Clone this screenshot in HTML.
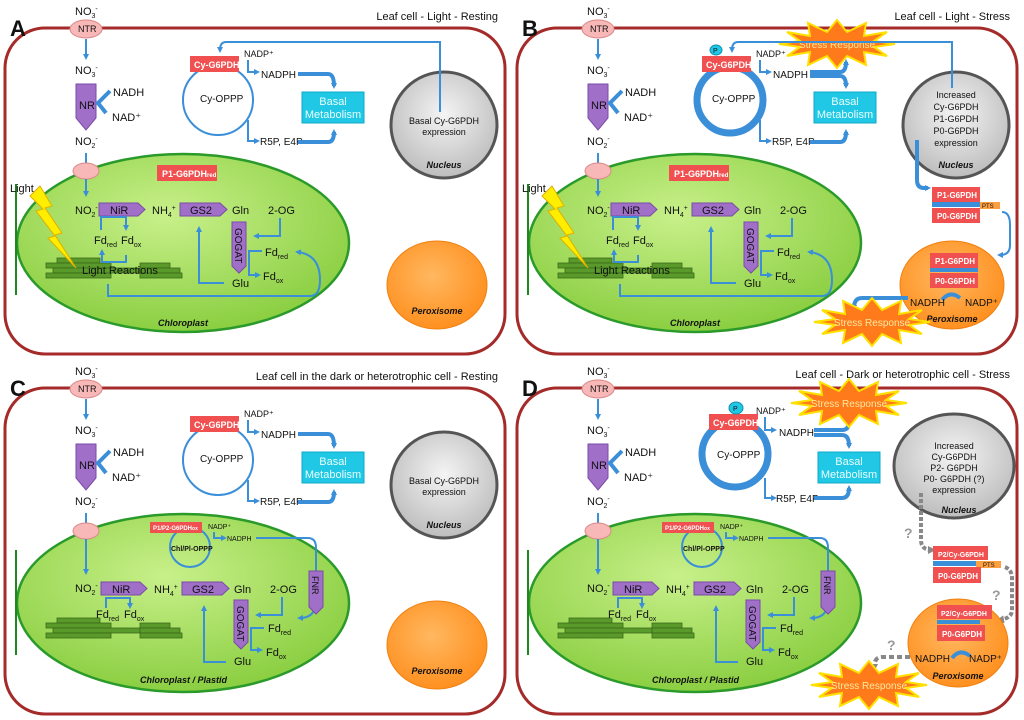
<!DOCTYPE html>
<html><head><meta charset="utf-8"><style>
html,body{margin:0;padding:0;background:#fff}
svg{display:block;font-family:"Liberation Sans",sans-serif;font-size:11px}
text{fill:#111}
.b{font-weight:bold;font-style:italic}
.w{fill:#fff;font-weight:bold}
.wc{fill:#e8ffff}
.big{font-weight:bold}
.ttl{text-anchor:end}
.sr{fill:#ffe8a0;text-anchor:middle}
.q{fill:#999;font-weight:bold}
.bl{stroke:#3a8fd8;stroke-width:2;fill:none}
.bt{stroke:#3a8fd8;stroke-width:4;fill:none}
</style></head><body>
<svg width="1024" height="720" viewBox="0 0 1024 720" xmlns="http://www.w3.org/2000/svg">
<defs>
<marker id="ar" markerWidth="6" markerHeight="6" refX="3" refY="3" orient="auto" markerUnits="userSpaceOnUse"><path d="M0,0L6,3L0,6z" fill="#3a8fd8"/></marker>
<marker id="ag" markerWidth="8" markerHeight="8" refX="4" refY="4" orient="auto" markerUnits="userSpaceOnUse"><path d="M0,0L8,4L0,8z" fill="#888"/></marker>
<radialGradient id="gch" cx="0.45" cy="0.35" r="0.7"><stop offset="0" stop-color="#c8f08a"/><stop offset="1" stop-color="#86cc3c"/></radialGradient>
<radialGradient id="gnu" cx="0.5" cy="0.4" r="0.6"><stop offset="0" stop-color="#f4f4f4"/><stop offset="1" stop-color="#bdbdbd"/></radialGradient>
<radialGradient id="gpe" cx="0.45" cy="0.4" r="0.6"><stop offset="0" stop-color="#ffb860"/><stop offset="1" stop-color="#ff9020"/></radialGradient>
<polygon id="star" points="58,0 37,3 50,12 27,8 29,21 10,12 0,24 -10,12 -29,21 -27,8 -50,12 -37,3 -58,0 -37,-3 -50,-12 -27,-8 -29,-21 -10,-12 0,-24 10,-12 29,-21 27,-8 50,-12 37,-3" fill="#ff7a1a" stroke="#ffe000" stroke-width="2"/>
<g id="thy" fill="#5a9a2a" stroke="#3a6a1a" stroke-width="0.8">
<rect x="57" y="258" width="43" height="5"/><rect x="46" y="263" width="65" height="5"/><rect x="53" y="268" width="90" height="5"/><rect x="46" y="273" width="65" height="5"/>
<rect x="140" y="263" width="30" height="5"/><rect x="140" y="268" width="40" height="5"/><rect x="140" y="273" width="42" height="5"/>
</g>
<g id="nr"><polygon points="76,84 96,84 96,118 86,130 76,118" fill="#a070c8" stroke="#7a4aa8"/></g>
</defs>

<!-- ================= PANEL A ================= -->
<g>
<rect x="5" y="28" width="500" height="326" rx="40" fill="#fff" stroke="#a52a2a" stroke-width="3"/>
<text x="10" y="36" class="big" font-size="22">A</text>
<text x="498" y="20" class="ttl">Leaf cell - Light - Resting</text>
<text x="75" y="15">NO<tspan font-size="7" dy="3">3</tspan><tspan font-size="7" dy="-7">-</tspan></text>
<ellipse cx="86" cy="29" rx="16" ry="9" fill="#f8b8b8" stroke="#d88"/><text x="78" y="32" font-size="9">NTR</text>
<line x1="86" y1="39" x2="86" y2="57" class="bl" marker-end="url(#ar)"/>
<text x="75" y="74">NO<tspan font-size="7" dy="3">3</tspan><tspan font-size="7" dy="-7">-</tspan></text>
<use href="#nr"/><text x="79" y="109">NR</text>
<path d="M110,91 L98,103 L106,113" stroke="#3a8fd8" stroke-width="4" fill="none"/>
<text x="113" y="96">NADH</text><text x="112" y="121">NAD⁺</text>
<text x="75" y="145">NO<tspan font-size="7" dy="3">2</tspan><tspan font-size="7" dy="-7">-</tspan></text>
<line x1="86" y1="153" x2="86" y2="165" class="bl"/>
<ellipse cx="183" cy="243" rx="166" ry="89" fill="url(#gch)" stroke="#2a9a2a" stroke-width="2.5"/>
<ellipse cx="86" cy="171" rx="13" ry="8" fill="#f8b8b8" stroke="#d88"/>
<line x1="86" y1="179" x2="86" y2="194" class="bl" marker-end="url(#ar)"/>
<rect x="157" y="165" width="60" height="16" fill="#f05050"/><text x="162" y="177" class="w" font-size="9">P1-G6PDH<tspan font-size="6">red</tspan></text>
<line x1="16" y1="184" x2="16" y2="295" stroke="#1a8a1a" stroke-width="2"/>
<text x="10" y="192">Light</text>
<use href="#thy"/>
<polygon points="40,186 52,206 45,208 62,233 55,235 76,268 48,238 55,236 36,211 43,209 30,196" fill="#ffee00" stroke="#e0b000"/>
<text x="82" y="274">Light Reactions</text>
<text x="75" y="214">NO<tspan font-size="7" dy="3">2</tspan><tspan font-size="7" dy="-7">-</tspan></text>
<polygon points="99,203 138,203 145,209.5 138,216 99,216" fill="#a070c8" stroke="#7a4aa8"/><text x="110" y="214">NiR</text>
<text x="152" y="214">NH<tspan font-size="7" dy="3">4</tspan><tspan font-size="7" dy="-7">+</tspan></text>
<polygon points="180,203 220,203 227,209.5 220,216 180,216" fill="#a070c8" stroke="#7a4aa8"/><text x="190" y="214">GS2</text>
<text x="232" y="214">Gln</text><text x="268" y="214">2-OG</text>
<polygon points="232,222 246,222 246,266 239,273 232,266" fill="#a070c8" stroke="#7a4aa8"/>
<text x="235" y="228" transform="rotate(90 235 228)" font-size="10">GOGAT</text>
<path d="M101,230 V217 H126 V228" class="bl" marker-end="url(#ar)"/>
<path d="M126,255 V262 H102 V252" class="bl" marker-end="url(#ar)"/>
<text x="94" y="244">Fd<tspan font-size="7" dy="3">red</tspan></text><text x="121" y="244">Fd<tspan font-size="7" dy="3">ox</tspan></text>
<path d="M280,218 V236 H256" class="bl" marker-end="url(#ar)"/>
<path d="M262,251 H249 V275 H258" class="bl" marker-end="url(#ar)"/>
<text x="265" y="256">Fd<tspan font-size="7" dy="3">red</tspan></text><text x="263" y="280">Fd<tspan font-size="7" dy="3">ox</tspan></text>
<path d="M224,283 H199 V229" class="bl" marker-end="url(#ar)"/>
<text x="232" y="287">Glu</text>
<path d="M108,284 V296 H310 Q320,296 320,280 Q320,255 298,252" class="bl" marker-end="url(#ar)"/>
<text x="158" y="326" class="b" font-size="9">Chloroplast</text>
<circle cx="218" cy="100" r="35" class="bl"/>
<rect x="190" y="56" width="49" height="16" fill="#f05050"/><text x="194" y="68" class="w" font-size="9">Cy-G6PDH</text>
<text x="200" y="102" font-size="10">Cy-OPPP</text>
<text x="244" y="57" font-size="9">NADP⁺</text>
<path d="M248,60 V72 H257" class="bl" marker-end="url(#ar)"/>
<text x="261" y="78" font-size="10">NADPH</text>
<path d="M248,120 V141 H257" class="bl" marker-end="url(#ar)"/>
<text x="260" y="145" font-size="10">R5P, E4P</text>
<path d="M298,74 H328 Q334,74 334,86" class="bt" marker-end="url(#ar)"/>
<path d="M298,142 H328 Q334,142 334,132" class="bt" marker-end="url(#ar)"/>
<rect x="302" y="92" width="62" height="31" fill="#20c8e6" stroke="#10a8c8"/>
<text x="333" y="105" class="wc" text-anchor="middle">Basal</text><text x="333" y="118" class="wc" text-anchor="middle">Metabolism</text>
<circle cx="444" cy="125" r="53" fill="url(#gnu)" stroke="#555" stroke-width="3"/>
<text x="444" y="124" font-size="9" text-anchor="middle">Basal Cy-G6PDH</text><text x="444" y="135" font-size="9" text-anchor="middle">expression</text>
<text x="444" y="168" class="b" font-size="9" text-anchor="middle">Nucleus</text>
<path d="M440,112 V42 H226 Q220,42 220,50" class="bl" marker-end="url(#ar)"/>
<ellipse cx="437" cy="285" rx="50" ry="44" fill="url(#gpe)" stroke="#f08010"/>
<text x="437" y="314" class="b" font-size="9" text-anchor="middle">Peroxisome</text>
</g>

<!-- ================= PANEL B ================= -->
<g transform="translate(512,0)">
<rect x="5" y="28" width="500" height="326" rx="40" fill="#fff" stroke="#a52a2a" stroke-width="3"/>
<text x="10" y="36" class="big" font-size="22">B</text>
<text x="498" y="20" class="ttl">Leaf cell - Light - Stress</text>
<text x="75" y="15">NO<tspan font-size="7" dy="3">3</tspan><tspan font-size="7" dy="-7">-</tspan></text>
<ellipse cx="86" cy="29" rx="16" ry="9" fill="#f8b8b8" stroke="#d88"/><text x="78" y="32" font-size="9">NTR</text>
<line x1="86" y1="39" x2="86" y2="57" class="bl" marker-end="url(#ar)"/>
<text x="75" y="74">NO<tspan font-size="7" dy="3">3</tspan><tspan font-size="7" dy="-7">-</tspan></text>
<use href="#nr"/><text x="79" y="109">NR</text>
<path d="M110,91 L98,103 L106,113" stroke="#3a8fd8" stroke-width="4" fill="none"/>
<text x="113" y="96">NADH</text><text x="112" y="121">NAD⁺</text>
<text x="75" y="145">NO<tspan font-size="7" dy="3">2</tspan><tspan font-size="7" dy="-7">-</tspan></text>
<line x1="86" y1="153" x2="86" y2="165" class="bl"/>
<ellipse cx="183" cy="243" rx="166" ry="89" fill="url(#gch)" stroke="#2a9a2a" stroke-width="2.5"/>
<ellipse cx="86" cy="171" rx="13" ry="8" fill="#f8b8b8" stroke="#d88"/>
<line x1="86" y1="179" x2="86" y2="194" class="bl" marker-end="url(#ar)"/>
<rect x="157" y="165" width="60" height="16" fill="#f05050"/><text x="162" y="177" class="w" font-size="9">P1-G6PDH<tspan font-size="6">red</tspan></text>
<line x1="16" y1="184" x2="16" y2="295" stroke="#1a8a1a" stroke-width="2"/>
<text x="10" y="192">Light</text>
<use href="#thy"/>
<polygon points="40,186 52,206 45,208 62,233 55,235 76,268 48,238 55,236 36,211 43,209 30,196" fill="#ffee00" stroke="#e0b000"/>
<text x="82" y="274">Light Reactions</text>
<text x="75" y="214">NO<tspan font-size="7" dy="3">2</tspan><tspan font-size="7" dy="-7">-</tspan></text>
<polygon points="99,203 138,203 145,209.5 138,216 99,216" fill="#a070c8" stroke="#7a4aa8"/><text x="110" y="214">NiR</text>
<text x="152" y="214">NH<tspan font-size="7" dy="3">4</tspan><tspan font-size="7" dy="-7">+</tspan></text>
<polygon points="180,203 220,203 227,209.5 220,216 180,216" fill="#a070c8" stroke="#7a4aa8"/><text x="190" y="214">GS2</text>
<text x="232" y="214">Gln</text><text x="268" y="214">2-OG</text>
<polygon points="232,222 246,222 246,266 239,273 232,266" fill="#a070c8" stroke="#7a4aa8"/>
<text x="235" y="228" transform="rotate(90 235 228)" font-size="10">GOGAT</text>
<path d="M101,230 V217 H126 V228" class="bl" marker-end="url(#ar)"/>
<path d="M126,255 V262 H102 V252" class="bl" marker-end="url(#ar)"/>
<text x="94" y="244">Fd<tspan font-size="7" dy="3">red</tspan></text><text x="121" y="244">Fd<tspan font-size="7" dy="3">ox</tspan></text>
<path d="M280,218 V236 H256" class="bl" marker-end="url(#ar)"/>
<path d="M262,251 H249 V275 H258" class="bl" marker-end="url(#ar)"/>
<text x="265" y="256">Fd<tspan font-size="7" dy="3">red</tspan></text><text x="263" y="280">Fd<tspan font-size="7" dy="3">ox</tspan></text>
<path d="M224,283 H199 V229" class="bl" marker-end="url(#ar)"/>
<text x="232" y="287">Glu</text>
<path d="M108,284 V296 H310 Q320,296 320,280 Q320,255 298,252" class="bl" marker-end="url(#ar)"/>
<text x="158" y="326" class="b" font-size="9">Chloroplast</text>
<circle cx="218" cy="100" r="33" stroke="#3a8fd8" stroke-width="7" fill="none"/>
<rect x="190" y="56" width="49" height="16" fill="#f05050"/><text x="194" y="68" class="w" font-size="9">Cy-G6PDH</text>
<ellipse cx="204" cy="50" rx="6" ry="5" fill="#20c8e6" stroke="#1090b0"/><text x="201" y="53" font-size="7">P</text>
<text x="200" y="102" font-size="10">Cy-OPPP</text>
<text x="244" y="57" font-size="9">NADP⁺</text>
<path d="M248,60 V72 H257" class="bl" marker-end="url(#ar)"/>
<text x="261" y="78" font-size="10">NADPH</text>
<path d="M248,120 V141 H257" class="bl" marker-end="url(#ar)"/>
<text x="260" y="145" font-size="10">R5P, E4P</text>
<path d="M298,72 H328 Q334,72 334,62" class="bt" marker-end="url(#ar)"/>
<path d="M298,76 H328 Q334,76 334,86" class="bt" marker-end="url(#ar)"/>
<path d="M298,142 H328 Q334,142 334,132" class="bt" marker-end="url(#ar)"/>
<rect x="302" y="92" width="62" height="31" fill="#20c8e6" stroke="#10a8c8"/>
<text x="333" y="105" class="wc" text-anchor="middle">Basal</text><text x="333" y="118" class="wc" text-anchor="middle">Metabolism</text>
<use href="#star" x="325" y="44"/><text x="325" y="48" font-size="10" class="sr">Stress Response</text>
<circle cx="444" cy="125" r="53" fill="url(#gnu)" stroke="#555" stroke-width="3"/>
<text x="444" y="98" font-size="9" text-anchor="middle">Increased</text><text x="444" y="110" font-size="9" text-anchor="middle">Cy-G6PDH</text>
<text x="444" y="122" font-size="9" text-anchor="middle">P1-G6PDH</text><text x="444" y="134" font-size="9" text-anchor="middle">P0-G6PDH</text>
<text x="444" y="146" font-size="9" text-anchor="middle">expression</text>
<text x="444" y="168" class="b" font-size="9" text-anchor="middle">Nucleus</text>
<path d="M440,88 V42 H226 Q220,42 220,50" class="bl" marker-end="url(#ar)"/>
<path d="M405,140 V180 Q405,188 412,188 L416,188" class="bt" marker-end="url(#ar)"/>
<rect x="420" y="187" width="48" height="15" fill="#f05050"/><text x="425" y="198" class="w" font-size="8">P1-G6PDH</text>
<rect x="420" y="202" width="48" height="5" fill="#3a8fd8"/><rect x="468" y="202" width="20" height="7" fill="#ffa040"/><text x="470" y="208" font-size="6">PTS</text>
<rect x="420" y="208" width="48" height="15" fill="#f05050"/><text x="425" y="219" class="w" font-size="8">P0-G6PDH</text>
<path d="M490,212 Q498,212 498,225 V245 Q498,255 488,255" class="bl" marker-end="url(#ar)"/>
<ellipse cx="440" cy="285" rx="52" ry="44" fill="url(#gpe)" stroke="#f08010"/>
<rect x="418" y="253" width="48" height="15" fill="#f05050"/><text x="423" y="264" class="w" font-size="8">P1-G6PDH</text>
<rect x="418" y="268" width="48" height="4" fill="#3a8fd8"/>
<rect x="418" y="273" width="48" height="15" fill="#f05050"/><text x="423" y="284" class="w" font-size="8">P0-G6PDH</text>
<path d="M430,300 Q438,290 448,298" stroke="#3a8fd8" stroke-width="4" fill="none"/>
<text x="398" y="306" font-size="10">NADPH</text><text x="453" y="306" font-size="10">NADP⁺</text>
<text x="440" y="322" class="b" font-size="9" text-anchor="middle">Peroxisome</text>
<path d="M396,298 H350 Q342,298 342,308" class="bt" marker-end="url(#ar)"/>
<use href="#star" x="360" y="322"/><text x="360" y="326" font-size="10" class="sr">Stress Response</text>
</g>

<!-- ================= PANEL C ================= -->
<g transform="translate(0,360)">
<rect x="5" y="28" width="500" height="326" rx="40" fill="#fff" stroke="#a52a2a" stroke-width="3"/>
<text x="10" y="36" class="big" font-size="22">C</text>
<text x="498" y="20" class="ttl">Leaf cell in the dark or heterotrophic cell - Resting</text>
<text x="75" y="15">NO<tspan font-size="7" dy="3">3</tspan><tspan font-size="7" dy="-7">-</tspan></text>
<ellipse cx="86" cy="29" rx="16" ry="9" fill="#f8b8b8" stroke="#d88"/><text x="78" y="32" font-size="9">NTR</text>
<line x1="86" y1="39" x2="86" y2="57" class="bl" marker-end="url(#ar)"/>
<text x="75" y="74">NO<tspan font-size="7" dy="3">3</tspan><tspan font-size="7" dy="-7">-</tspan></text>
<use href="#nr"/><text x="79" y="109">NR</text>
<path d="M110,91 L98,103 L106,113" stroke="#3a8fd8" stroke-width="4" fill="none"/>
<text x="113" y="96">NADH</text><text x="112" y="121">NAD⁺</text>
<text x="75" y="145">NO<tspan font-size="7" dy="3">2</tspan><tspan font-size="7" dy="-7">-</tspan></text>
<line x1="86" y1="153" x2="86" y2="165" class="bl"/>
<ellipse cx="183" cy="243" rx="166" ry="89" fill="url(#gch)" stroke="#2a9a2a" stroke-width="2.5"/>
<ellipse cx="86" cy="171" rx="13" ry="8" fill="#f8b8b8" stroke="#d88"/>
<line x1="86" y1="179" x2="86" y2="212" class="bl" marker-end="url(#ar)"/>
<line x1="16" y1="190" x2="16" y2="295" stroke="#1a8a1a" stroke-width="2"/>
<use href="#thy"/>
<circle cx="190" cy="187" r="20" class="bl"/>
<rect x="150" y="162" width="52" height="11" fill="#f05050"/><text x="153" y="170" class="w" font-size="6">P1/P2-G6PDH<tspan font-size="5">ox</tspan></text>
<text x="208" y="169" font-size="7">NADP⁺</text>
<text x="171" y="191" font-size="7" font-weight="bold">Chl/Pl-OPPP</text>
<path d="M214,172 V178 H224" class="bl" marker-end="url(#ar)"/>
<text x="227" y="181" font-size="7">NADPH</text>
<path d="M256,178 H308 Q316,178 316,188 V240 Q316,258 300,258" class="bl" marker-end="url(#ar)"/>
<polygon points="309,211 323,211 323,247 316,254 309,247" fill="#a070c8" stroke="#7a4aa8"/>
<text x="312" y="216" transform="rotate(90 312 216)" font-size="9">FNR</text>
<text x="75" y="232">NO<tspan font-size="7" dy="3">2</tspan><tspan font-size="7" dy="-7">-</tspan></text>
<polygon points="101,222 140,222 147,228.5 140,235 101,235" fill="#a070c8" stroke="#7a4aa8"/><text x="112" y="233">NiR</text>
<text x="154" y="233">NH<tspan font-size="7" dy="3">4</tspan><tspan font-size="7" dy="-7">+</tspan></text>
<polygon points="182,222 222,222 229,228.5 222,235 182,235" fill="#a070c8" stroke="#7a4aa8"/><text x="192" y="233">GS2</text>
<text x="234" y="233">Gln</text><text x="270" y="233">2-OG</text>
<polygon points="234,240 248,240 248,282 241,289 234,282" fill="#a070c8" stroke="#7a4aa8"/>
<text x="237" y="246" transform="rotate(90 237 246)" font-size="10">GOGAT</text>
<path d="M106,248 V238 H130 V246" class="bl" marker-end="url(#ar)"/>
<text x="96" y="258">Fd<tspan font-size="7" dy="3">red</tspan></text><text x="124" y="258">Fd<tspan font-size="7" dy="3">ox</tspan></text>
<path d="M282,237 V255 H258" class="bl" marker-end="url(#ar)"/>
<path d="M264,268 H251 V290 H260" class="bl" marker-end="url(#ar)"/>
<text x="268" y="272">Fd<tspan font-size="7" dy="3">red</tspan></text><text x="266" y="296">Fd<tspan font-size="7" dy="3">ox</tspan></text>
<path d="M226,302 H204 V248" class="bl" marker-end="url(#ar)"/>
<text x="234" y="305">Glu</text>
<text x="140" y="323" class="b" font-size="9">Chloroplast / Plastid</text>
<circle cx="218" cy="100" r="35" class="bl"/>
<rect x="190" y="56" width="49" height="16" fill="#f05050"/><text x="194" y="68" class="w" font-size="9">Cy-G6PDH</text>
<text x="200" y="102" font-size="10">Cy-OPPP</text>
<text x="244" y="57" font-size="9">NADP⁺</text>
<path d="M248,60 V72 H257" class="bl" marker-end="url(#ar)"/>
<text x="261" y="78" font-size="10">NADPH</text>
<path d="M248,120 V141 H257" class="bl" marker-end="url(#ar)"/>
<text x="260" y="145" font-size="10">R5P, E4P</text>
<path d="M298,74 H328 Q334,74 334,86" class="bt" marker-end="url(#ar)"/>
<path d="M298,142 H328 Q334,142 334,132" class="bt" marker-end="url(#ar)"/>
<rect x="302" y="92" width="62" height="31" fill="#20c8e6" stroke="#10a8c8"/>
<text x="333" y="105" class="wc" text-anchor="middle">Basal</text><text x="333" y="118" class="wc" text-anchor="middle">Metabolism</text>
<circle cx="444" cy="125" r="53" fill="url(#gnu)" stroke="#555" stroke-width="3"/>
<text x="444" y="124" font-size="9" text-anchor="middle">Basal Cy-G6PDH</text><text x="444" y="135" font-size="9" text-anchor="middle">expression</text>
<text x="444" y="168" class="b" font-size="9" text-anchor="middle">Nucleus</text>
<ellipse cx="437" cy="285" rx="50" ry="44" fill="url(#gpe)" stroke="#f08010"/>
<text x="437" y="314" class="b" font-size="9" text-anchor="middle">Peroxisome</text>
</g>

<!-- ================= PANEL D ================= -->
<g transform="translate(512,360)">
<rect x="5" y="28" width="500" height="326" rx="40" fill="#fff" stroke="#a52a2a" stroke-width="3"/>
<text x="10" y="36" class="big" font-size="22">D</text>
<text x="498" y="18" class="ttl">Leaf cell - Dark or heterotrophic cell - Stress</text>
<text x="75" y="15">NO<tspan font-size="7" dy="3">3</tspan><tspan font-size="7" dy="-7">-</tspan></text>
<ellipse cx="86" cy="29" rx="16" ry="9" fill="#f8b8b8" stroke="#d88"/><text x="78" y="32" font-size="9">NTR</text>
<line x1="86" y1="39" x2="86" y2="57" class="bl" marker-end="url(#ar)"/>
<text x="75" y="74">NO<tspan font-size="7" dy="3">3</tspan><tspan font-size="7" dy="-7">-</tspan></text>
<use href="#nr"/><text x="79" y="109">NR</text>
<path d="M110,91 L98,103 L106,113" stroke="#3a8fd8" stroke-width="4" fill="none"/>
<text x="113" y="96">NADH</text><text x="112" y="121">NAD⁺</text>
<text x="75" y="145">NO<tspan font-size="7" dy="3">2</tspan><tspan font-size="7" dy="-7">-</tspan></text>
<line x1="86" y1="153" x2="86" y2="165" class="bl"/>
<ellipse cx="183" cy="243" rx="166" ry="89" fill="url(#gch)" stroke="#2a9a2a" stroke-width="2.5"/>
<ellipse cx="86" cy="171" rx="13" ry="8" fill="#f8b8b8" stroke="#d88"/>
<line x1="86" y1="179" x2="86" y2="212" class="bl" marker-end="url(#ar)"/>
<line x1="16" y1="190" x2="16" y2="295" stroke="#1a8a1a" stroke-width="2"/>
<use href="#thy"/>
<circle cx="190" cy="187" r="20" class="bl"/>
<rect x="150" y="162" width="52" height="11" fill="#f05050"/><text x="153" y="170" class="w" font-size="6">P1/P2-G6PDH<tspan font-size="5">ox</tspan></text>
<text x="208" y="169" font-size="7">NADP⁺</text>
<text x="171" y="191" font-size="7" font-weight="bold">Chl/Pl-OPPP</text>
<path d="M214,172 V178 H224" class="bl" marker-end="url(#ar)"/>
<text x="227" y="181" font-size="7">NADPH</text>
<path d="M256,178 H308 Q316,178 316,188 V240 Q316,258 300,258" class="bl" marker-end="url(#ar)"/>
<polygon points="309,211 323,211 323,247 316,254 309,247" fill="#a070c8" stroke="#7a4aa8"/>
<text x="312" y="216" transform="rotate(90 312 216)" font-size="9">FNR</text>
<text x="75" y="232">NO<tspan font-size="7" dy="3">2</tspan><tspan font-size="7" dy="-7">-</tspan></text>
<polygon points="101,222 140,222 147,228.5 140,235 101,235" fill="#a070c8" stroke="#7a4aa8"/><text x="112" y="233">NiR</text>
<text x="154" y="233">NH<tspan font-size="7" dy="3">4</tspan><tspan font-size="7" dy="-7">+</tspan></text>
<polygon points="182,222 222,222 229,228.5 222,235 182,235" fill="#a070c8" stroke="#7a4aa8"/><text x="192" y="233">GS2</text>
<text x="234" y="233">Gln</text><text x="270" y="233">2-OG</text>
<polygon points="234,240 248,240 248,282 241,289 234,282" fill="#a070c8" stroke="#7a4aa8"/>
<text x="237" y="246" transform="rotate(90 237 246)" font-size="10">GOGAT</text>
<path d="M106,248 V238 H130 V246" class="bl" marker-end="url(#ar)"/>
<text x="96" y="258">Fd<tspan font-size="7" dy="3">red</tspan></text><text x="124" y="258">Fd<tspan font-size="7" dy="3">ox</tspan></text>
<path d="M282,237 V255 H258" class="bl" marker-end="url(#ar)"/>
<path d="M264,268 H251 V290 H260" class="bl" marker-end="url(#ar)"/>
<text x="268" y="272">Fd<tspan font-size="7" dy="3">red</tspan></text><text x="266" y="296">Fd<tspan font-size="7" dy="3">ox</tspan></text>
<path d="M226,302 H204 V248" class="bl" marker-end="url(#ar)"/>
<text x="234" y="305">Glu</text>
<text x="140" y="323" class="b" font-size="9">Chloroplast / Plastid</text>
<circle cx="223" cy="94" r="33" stroke="#3a8fd8" stroke-width="7" fill="none"/>
<rect x="197" y="54" width="49" height="16" fill="#f05050"/><text x="201" y="66" class="w" font-size="9">Cy-G6PDH</text>
<ellipse cx="224" cy="48" rx="7" ry="6" fill="#20c8e6" stroke="#1090b0"/><text x="221" y="51" font-size="7">P</text>
<text x="205" y="98" font-size="10">Cy-OPPP</text>
<text x="244" y="54" font-size="9">NADP⁺</text>
<path d="M253,57 V70 H262" class="bl" marker-end="url(#ar)"/>
<text x="267" y="76" font-size="10">NADPH</text>
<path d="M253,118 V138 H262" class="bl" marker-end="url(#ar)"/>
<text x="264" y="142" font-size="10">R5P, E4P</text>
<path d="M302,70 H330 Q337,70 337,62" class="bt" marker-end="url(#ar)"/>
<path d="M302,75 H330 Q337,75 337,86" class="bt" marker-end="url(#ar)"/>
<path d="M302,138 H330 Q337,138 337,128" class="bt" marker-end="url(#ar)"/>
<rect x="306" y="92" width="62" height="31" fill="#20c8e6" stroke="#10a8c8"/>
<text x="337" y="105" class="wc" text-anchor="middle">Basal</text><text x="337" y="118" class="wc" text-anchor="middle">Metabolism</text>
<use href="#star" x="337" y="43"/><text x="337" y="47" font-size="10" class="sr">Stress Response</text>
<ellipse cx="442" cy="106" rx="60" ry="52" fill="url(#gnu)" stroke="#555" stroke-width="3"/>
<text x="442" y="89" font-size="9" text-anchor="middle">Increased</text><text x="442" y="100" font-size="9" text-anchor="middle">Cy-G6PDH</text>
<text x="442" y="111" font-size="9" text-anchor="middle">P2- G6PDH</text><text x="442" y="122" font-size="9" text-anchor="middle">P0- G6PDH (?)</text>
<text x="442" y="133" font-size="9" text-anchor="middle">expression</text>
<text x="447" y="153" class="b" font-size="9" text-anchor="middle">Nucleus</text>
<path d="M409,133 V180 Q409,190 420,190" stroke="#888" stroke-width="4" stroke-dasharray="4,2" fill="none" marker-end="url(#ag)"/>
<text x="392" y="178" font-size="14" class="q">?</text>
<rect x="421" y="186" width="55" height="14" fill="#f05050"/><text x="426" y="197" class="w" font-size="7">P2/Cy-G6PDH</text>
<rect x="421" y="201" width="43" height="5" fill="#3a8fd8"/><rect x="464" y="201" width="25" height="7" fill="#ffa040"/><text x="471" y="207" font-size="6">PTS</text>
<rect x="421" y="207" width="48" height="16" fill="#f05050"/><text x="426" y="219" class="w" font-size="8">P0-G6PDH</text>
<path d="M493,207 Q500,210 500,218 V250 Q500,258 488,260" stroke="#888" stroke-width="4" stroke-dasharray="4,2" fill="none" marker-end="url(#ag)"/>
<text x="480" y="240" font-size="14" class="q">?</text>
<ellipse cx="446" cy="283" rx="50" ry="44" fill="url(#gpe)" stroke="#f08010"/>
<rect x="425" y="245" width="55" height="14" fill="#f05050"/><text x="429" y="256" class="w" font-size="7">P2/Cy-G6PDH</text>
<rect x="425" y="260" width="43" height="4" fill="#3a8fd8"/>
<rect x="425" y="265" width="48" height="16" fill="#f05050"/><text x="430" y="277" class="w" font-size="8">P0-G6PDH</text>
<path d="M440,298 Q448,288 458,296" stroke="#3a8fd8" stroke-width="4" fill="none"/>
<text x="403" y="302" font-size="10">NADPH</text><text x="457" y="302" font-size="10">NADP⁺</text>
<text x="446" y="319" class="b" font-size="9" text-anchor="middle">Peroxisome</text>
<path d="M398,297 H370 Q362,297 362,308" stroke="#888" stroke-width="4" stroke-dasharray="5,3" fill="none" marker-end="url(#ag)"/>
<text x="375" y="290" font-size="14" class="q">?</text>
<use href="#star" x="357" y="325"/><text x="357" y="329" font-size="10" class="sr">Stress Response</text>
</g>
</svg>
</body></html>
